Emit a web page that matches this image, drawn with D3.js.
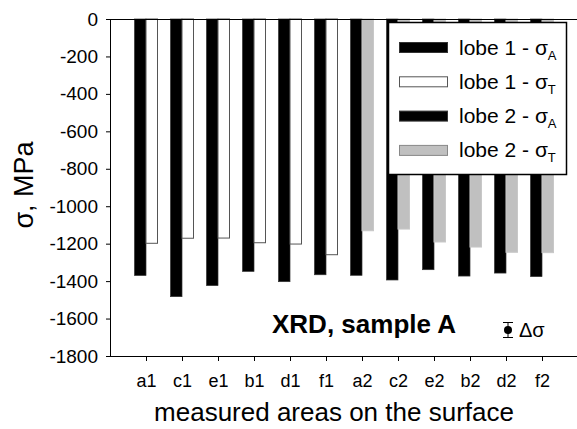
<html><head>
<meta charset="utf-8">
<script src="https://d3js.org/d3.v7.min.js"></script>
<style>
  body { margin: 0; background: #fff; }
  text { font-family: "Liberation Sans", Arial, sans-serif; }
</style>
</head>
<body>
<div id="chart"></div>
<script>

// data
var areas = ["a1", "c1", "e1", "b1", "d1", "f1", "a2", "c2", "e2", "b2", "d2", "f2"];
var sigmaA = [-1370, -1483, -1424, -1348, -1403, -1366, -1369, -1394, -1339, -1373, -1357, -1376];
var sigmaT = [-1198, -1171, -1170, -1195, -1202, -1259, -1131, -1122, -1191, -1218, -1246, -1248];
var lobe = [1, 1, 1, 1, 1, 1, 2, 2, 2, 2, 2, 2];
var yTicks = [0, -200, -400, -600, -800, -1000, -1200, -1400, -1600, -1800];

var W = 577, H = 429;
var plotL = 110, plotR = 578, plotT = 19, plotB = 356;

var svg = d3.select("#chart").append("svg")
    .attr("width", W)
    .attr("height", H);

var x = d3.scalePoint()
    .domain(areas)
    .range([plotL, plotR])
    .padding(1);

var y = d3.scaleLinear()
    .domain([-1800, 0])
    .range([plotB, plotT]);

var barW = 11.5;

// bars
areas.forEach(function(a, i) {
  svg.append("rect")
    .attr("x", x(a) - barW)
    .attr("y", y(0))
    .attr("width", barW)
    .attr("height", y(sigmaA[i]) - y(0))
    .attr("fill", "#000")
    .attr("stroke", "#333")
    .attr("stroke-width", 0.7);

  svg.append("rect")
    .attr("x", x(a))
    .attr("y", y(0))
    .attr("width", barW)
    .attr("height", y(sigmaT[i]) - y(0))
    .attr("fill", lobe[i] == 1 ? "#fff" : "#c0c0c0")
    .attr("stroke", lobe[i] == 1 ? "#555" : "#c8c8c8")
    .attr("stroke-width", 1);
});

// axes
var yAxis = d3.axisLeft(y)
    .tickValues(yTicks)
    .tickSize(4)
    .tickPadding(8)
    .tickFormat(function(d) { return String(d); });   // plain hyphen, like the original

var gy = svg.append("g")
    .attr("transform", "translate(" + plotL + ",0)")
    .call(yAxis);
gy.select(".domain").remove();
gy.append("line")
    .attr("x1", 0.5).attr("x2", 0.5)
    .attr("y1", plotT).attr("y2", plotB + 0.5)
    .attr("stroke", "#000");
gy.selectAll(".tick text").style("font-size", "19px");

var xAxis = d3.axisBottom(x)
    .tickSize(5)
    .tickPadding(13);

var gx = svg.append("g")
    .attr("transform", "translate(0," + plotB + ")")
    .call(xAxis);
gx.select(".domain").remove();
gx.append("line")
    .attr("x1", plotL).attr("x2", plotR)
    .attr("y1", 0.5).attr("y2", 0.5)
    .attr("stroke", "#000");
gx.selectAll(".tick text").style("font-size", "18px");

svg.selectAll(".tick text")
    .style("font-family", "'Liberation Sans', Arial, sans-serif")
    .attr("fill", "#000");

// zero line
svg.append("line")
    .attr("x1", plotL).attr("x2", plotR)
    .attr("y1", Math.round(y(0)) + 0.5).attr("y2", Math.round(y(0)) + 0.5)
    .attr("stroke", "#000");

// axis titles
svg.append("text")
    .attr("transform", "translate(33,185) rotate(-90)")
    .attr("text-anchor", "middle")
    .style("font-size", "27px")
    .text("σ, MPa");

svg.append("text")
    .attr("x", 334)
    .attr("y", 421)
    .attr("text-anchor", "middle")
    .style("font-size", "26px")
    .text("measured areas on the surface");

// legend
var legend = [
  { name: "lobe 1 - σ", sub: "A", fill: "#000", stroke: "#333" },
  { name: "lobe 1 - σ", sub: "T", fill: "#fff", stroke: "#555" },
  { name: "lobe 2 - σ", sub: "A", fill: "#000", stroke: "#333" },
  { name: "lobe 2 - σ", sub: "T", fill: "#c0c0c0", stroke: "#888" }
];

svg.append("rect")
    .attr("x", 388.5).attr("y", 22.5)
    .attr("width", 178).attr("height", 152)
    .attr("fill", "#fff")
    .attr("stroke", "#000")
    .attr("stroke-width", 1.5);

legend.forEach(function(d, i) {
  var cy = 47.5 + i * 34.3;
  svg.append("rect")
    .attr("x", 399.5).attr("y", cy - 5)
    .attr("width", 48).attr("height", 10)
    .attr("fill", d.fill)
    .attr("stroke", d.stroke);
  var t = svg.append("text")
    .attr("x", 459)
    .attr("y", cy + 7)
    .style("font-size", "21px")
    .text(d.name);
  t.append("tspan")
    .attr("dy", 5)
    .style("font-size", "13px")
    .text(d.sub);
});

// annotation
svg.append("text")
    .attr("x", 272)
    .attr("y", 333)
    .style("font-size", "26px")
    .style("font-weight", "bold")
    .text("XRD, sample A");

svg.append("line")
    .attr("x1", 508).attr("x2", 508)
    .attr("y1", 322.5).attr("y2", 337.5)
    .attr("stroke", "#000");
svg.append("line")
    .attr("x1", 503).attr("x2", 513)
    .attr("y1", 322.5).attr("y2", 322.5)
    .attr("stroke", "#000");
svg.append("line")
    .attr("x1", 503).attr("x2", 513)
    .attr("y1", 337.5).attr("y2", 337.5)
    .attr("stroke", "#000");
svg.append("circle")
    .attr("cx", 508).attr("cy", 330)
    .attr("r", 4)
    .attr("fill", "#000");
svg.append("text")
    .attr("x", 519)
    .attr("y", 337)
    .style("font-size", "20px")
    .text("Δσ");

</script>
</body></html>
